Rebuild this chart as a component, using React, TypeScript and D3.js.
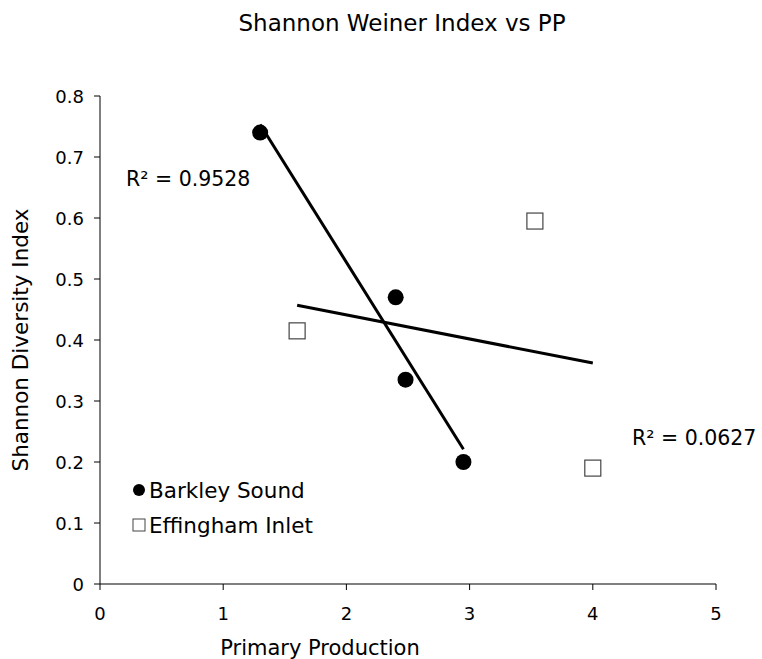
import React from 'react';
import * as d3 from 'd3';

const barkleyX = [1.3, 2.4, 2.48, 2.95];
const barkleyY = [0.74, 0.47, 0.335, 0.2];
const effinghamX = [1.6, 3.53, 4.0];
const effinghamY = [0.415, 0.595, 0.19];
const xTicks = [0, 1, 2, 3, 4, 5];
const yTicks = [0, 0.1, 0.2, 0.3, 0.4, 0.5, 0.6, 0.7, 0.8];
const r2Labels = ['R² = 0.9528', 'R² = 0.0627'];

const font = 'Verdana, "DejaVu Sans", sans-serif';

// least squares fit, returns endpoints over the x range of the series
function fit(xs, ys) {
  const mx = d3.mean(xs), my = d3.mean(ys);
  let sxy = 0, sxx = 0;
  xs.forEach((x, i) => { sxy += (x - mx) * (ys[i] - my); sxx += (x - mx) ** 2; });
  const b = sxy / sxx, a = my - b * mx;
  const [x0, x1] = d3.extent(xs);
  return [[x0, a + b * x0], [x1, a + b * x1]];
}

export default function App() {
  const x = d3.scaleLinear().domain([0, 5]).range([100, 716]);
  const y = d3.scaleLinear().domain([0, 0.8]).range([584, 96]);
  const line = d3.line().x(d => x(d[0])).y(d => y(d[1]));
  const fitB = fit(barkleyX, barkleyY);
  const fitE = fit(effinghamX, effinghamY);

  return (
    <svg width={762} height={659} style={{ position: 'absolute', left: 0, top: 0, background: '#fff' }} fontFamily={font}>
      <text x={402} y={31} textAnchor="middle" fontSize={23} fill="#000">Shannon Weiner Index vs PP</text>

      {/* axes */}
      <line x1={100} x2={100} y1={96} y2={584} stroke="#000" />
      <line x1={100} x2={716} y1={584} y2={584} stroke="#000" />
      {yTicks.map(t => (
        <g key={'y' + t}>
          <line x1={94} x2={100} y1={y(t)} y2={y(t)} stroke="#000" />
          <text x={84} y={y(t) + 6.5} textAnchor="end" fontSize={18} fill="#000">{t === 0 ? '0' : t.toFixed(1)}</text>
        </g>
      ))}
      {xTicks.map(t => (
        <g key={'x' + t}>
          <line x1={x(t)} x2={x(t)} y1={584} y2={590} stroke="#000" />
          <text x={x(t)} y={620} textAnchor="middle" fontSize={18} fill="#000">{t}</text>
        </g>
      ))}
      <text x={320} y={655} textAnchor="middle" fontSize={21} fill="#000">Primary Production</text>
      <text transform="translate(28,340) rotate(-90)" textAnchor="middle" fontSize={21.5} fill="#000">Shannon Diversity Index</text>

      {/* trendlines */}
      <path d={line(fitB)} stroke="#000" strokeWidth={3} fill="none" />
      <path d={line(fitE)} stroke="#000" strokeWidth={3} fill="none" />

      {barkleyX.map((v, i) => (
        <circle key={'b' + i} cx={x(v)} cy={y(barkleyY[i])} r={8} fill="#000" />
      ))}
      {effinghamX.map((v, i) => (
        <rect key={'e' + i} x={x(v) - 8} y={y(effinghamY[i]) - 8} width={16} height={16} fill="#fff" stroke="#444" strokeWidth={1.2} />
      ))}

      <text x={126} y={186} fontSize={20.5} fill="#000">{r2Labels[0]}</text>
      <text x={632} y={445} fontSize={20.5} fill="#000">{r2Labels[1]}</text>

      {/* legend */}
      <circle cx={139} cy={490} r={6} fill="#000" />
      <text x={149} y={498} fontSize={21.5} fill="#000">Barkley Sound</text>
      <rect x={133} y={519} width={12} height={12} fill="#fff" stroke="#444" />
      <text x={149} y={533} fontSize={21.5} fill="#000">Effingham Inlet</text>
    </svg>
  );
}
